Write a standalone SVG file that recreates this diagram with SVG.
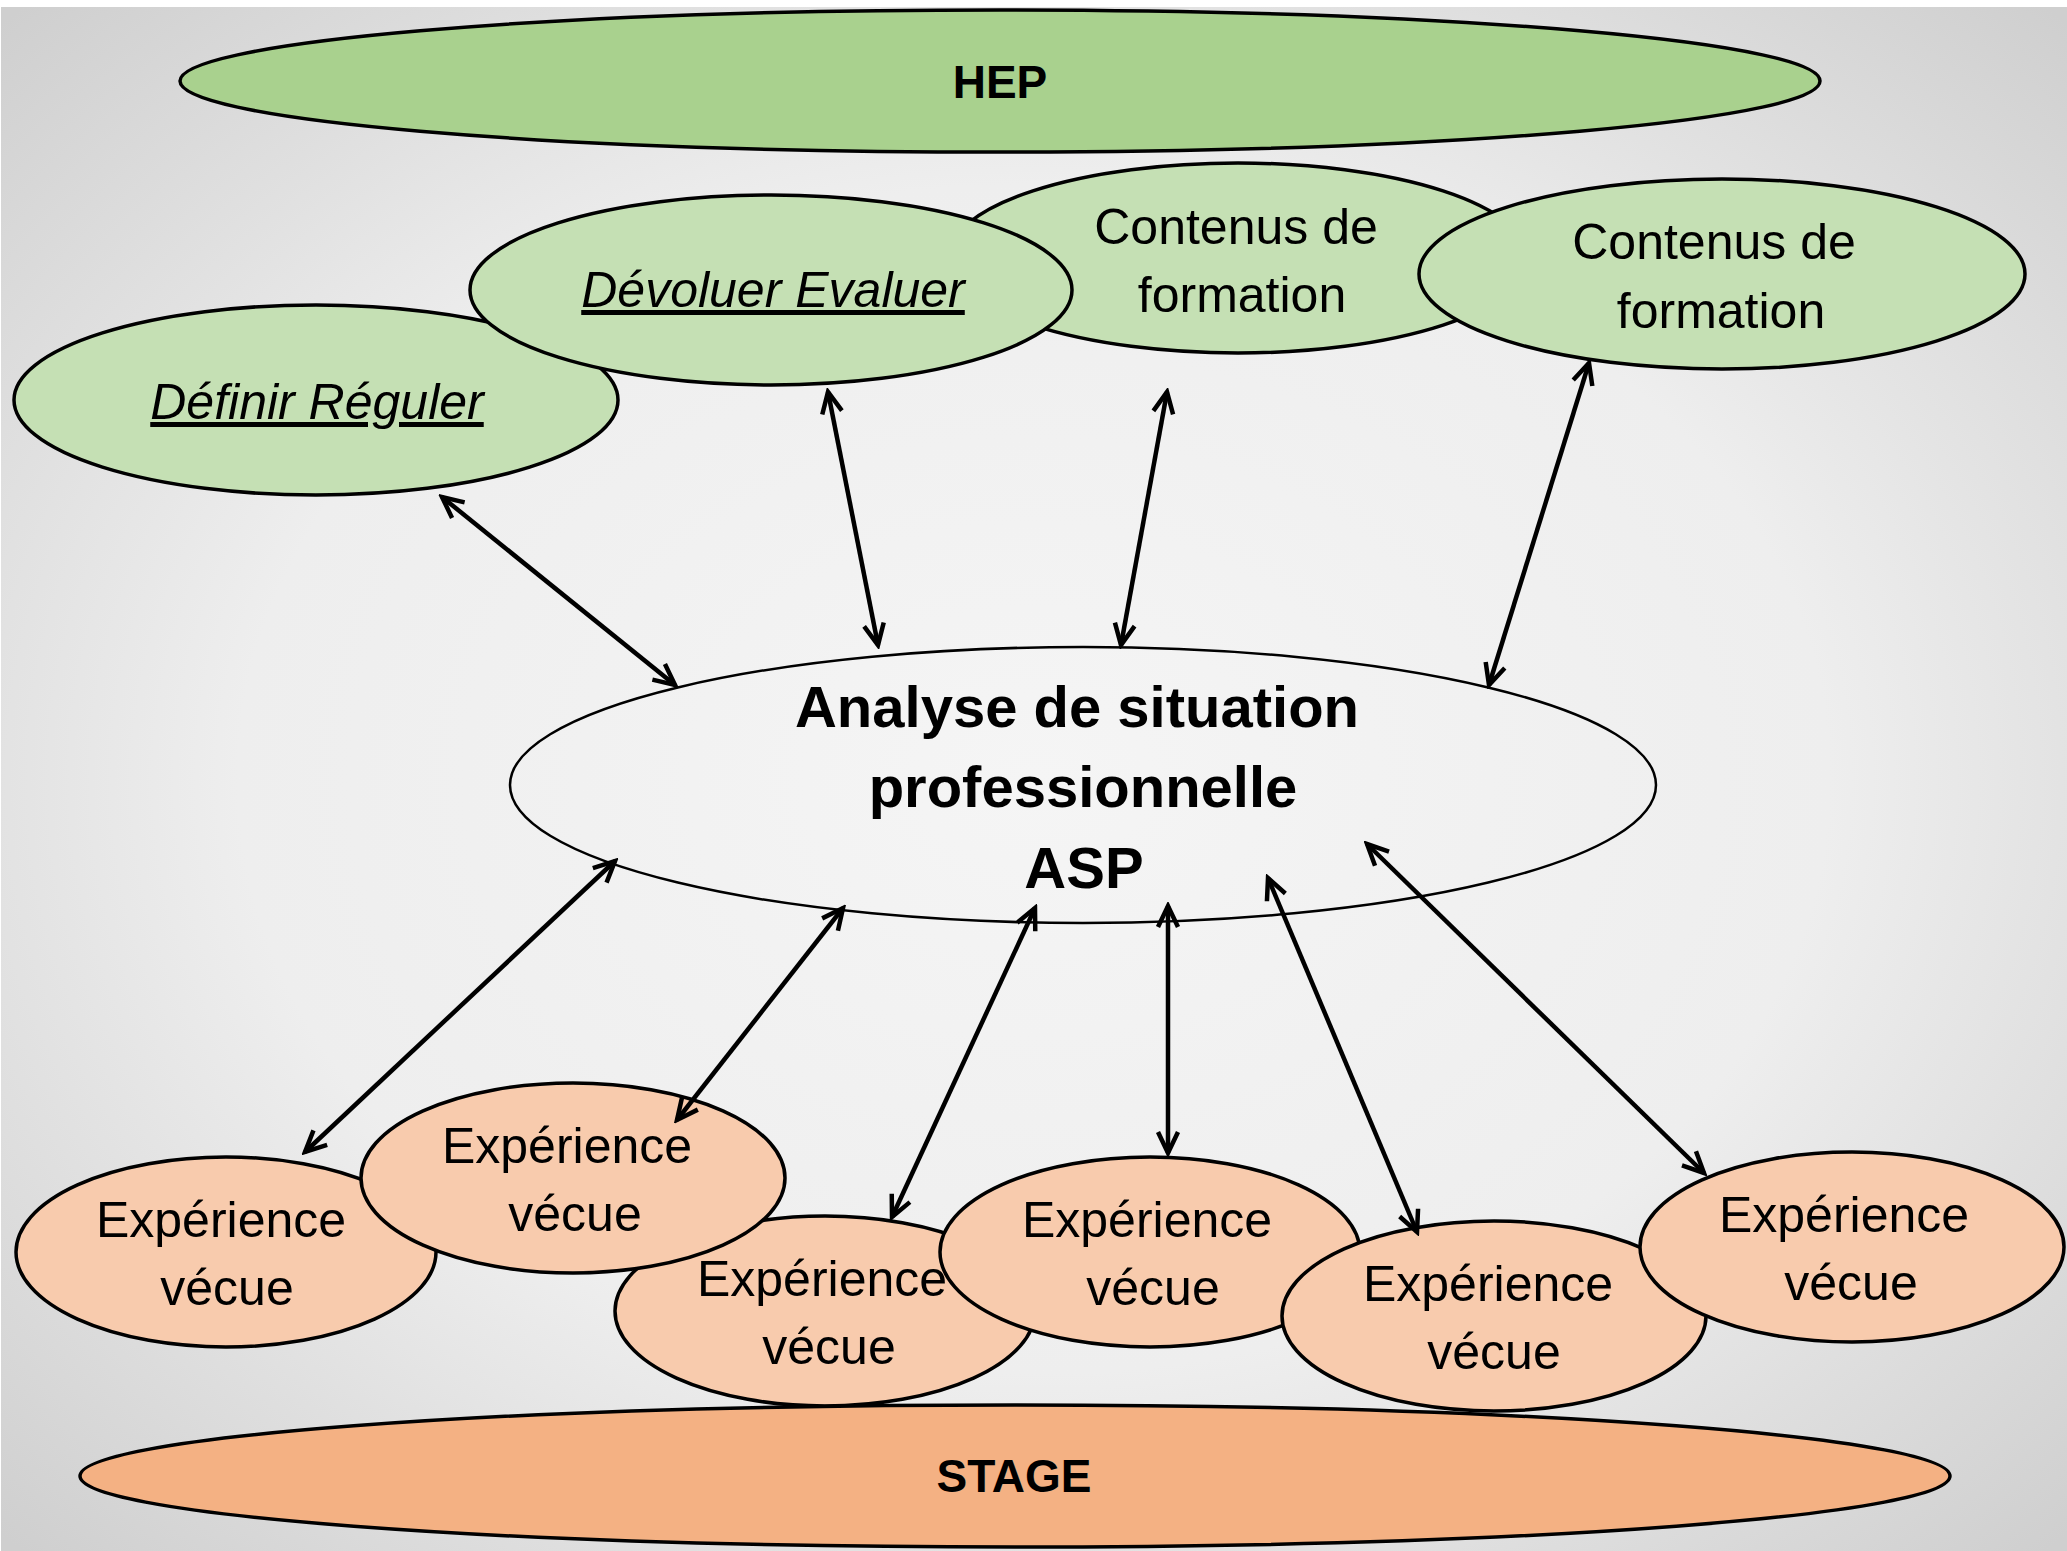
<svg xmlns="http://www.w3.org/2000/svg" width="2067" height="1551" viewBox="0 0 2067 1551">
<defs>
<radialGradient id="bg" cx="50%" cy="50%" r="70%">
<stop offset="0" stop-color="#f5f5f5"/>
<stop offset="0.55" stop-color="#eeeeee"/>
<stop offset="1" stop-color="#cfcfcf"/>
</radialGradient>
<marker id="ah" viewBox="-24 -13 28 26" refX="0" refY="0" markerWidth="28" markerHeight="26" markerUnits="userSpaceOnUse" orient="auto-start-reverse">
<path d="M-21,-10 L0,0 L-21,10" fill="none" stroke="#000" stroke-width="4.5" stroke-linejoin="miter"/>
</marker>
</defs>
<style>
.e{stroke:#000;stroke-width:3.5}
.hep{fill:#a9d18e}
.g{fill:#c5e0b4}
.o{fill:#f8cbad}
.st{fill:#f4b183}
.asp{fill:none;stroke:#000;stroke-width:2.5}
text{font-family:"Liberation Sans",Arial,sans-serif;fill:#000;text-anchor:middle}
.t{font-size:50px}
.i{font-size:50px;font-style:italic;text-decoration:underline}
.b{font-size:58px;font-weight:bold}
.bs{font-size:46px;font-weight:bold}
.c line{stroke:#000;stroke-width:4.5;marker-start:url(#ah);marker-end:url(#ah)}
</style>
<rect x="0" y="0" width="2067" height="1551" fill="#ffffff"/>
<rect x="1" y="7" width="2066" height="1544" fill="url(#bg)"/>

<g id="hep"><ellipse class="e hep" cx="1000" cy="81" rx="820" ry="71"/><text class="bs" x="1000" y="98">HEP</text></g>

<g id="definir"><ellipse class="e g" cx="316" cy="400" rx="302" ry="95"/><text class="i" x="317" y="419">Définir Réguler</text></g>
<g id="contenus1"><ellipse class="e g" cx="1238" cy="258" rx="290" ry="95"/><text class="t" x="1236" y="244">Contenus de</text><text class="t" x="1242" y="312">formation</text></g>
<g id="devoluer"><ellipse class="e g" cx="771" cy="290" rx="301" ry="95"/><text class="i" x="773" y="307">Dévoluer Evaluer</text></g>
<g id="contenus2"><ellipse class="e g" cx="1722" cy="274" rx="303" ry="95"/><text class="t" x="1714" y="259">Contenus de</text><text class="t" x="1721" y="328">formation</text></g>

<g id="asp"><ellipse class="asp" cx="1083" cy="785" rx="573" ry="138"/><text class="b" x="1077" y="727">Analyse de situation</text><text class="b" x="1083" y="807">professionnelle</text><text class="b" x="1084" y="888">ASP</text></g>

<g id="exp1"><ellipse class="e o" cx="226" cy="1252" rx="210" ry="95"/><text class="t" x="221" y="1237">Expérience</text><text class="t" x="227" y="1305">vécue</text></g>
<g id="exp3"><ellipse class="e o" cx="825" cy="1311" rx="210" ry="95"/><text class="t" x="822" y="1296">Expérience</text><text class="t" x="829" y="1364">vécue</text></g>
<g id="exp2"><ellipse class="e o" cx="573" cy="1178" rx="212" ry="95"/><text class="t" x="567" y="1163">Expérience</text><text class="t" x="575" y="1231">vécue</text></g>
<g id="exp4"><ellipse class="e o" cx="1150" cy="1252" rx="210" ry="95"/><text class="t" x="1147" y="1237">Expérience</text><text class="t" x="1153" y="1305">vécue</text></g>
<g id="exp5"><ellipse class="e o" cx="1494" cy="1316" rx="212" ry="95"/><text class="t" x="1488" y="1301">Expérience</text><text class="t" x="1494" y="1369">vécue</text></g>
<g id="exp6"><ellipse class="e o" cx="1852" cy="1247" rx="212" ry="95"/><text class="t" x="1844" y="1232">Expérience</text><text class="t" x="1851" y="1300">vécue</text></g>

<g id="stage"><ellipse class="e st" cx="1015" cy="1476" rx="935" ry="71"/><text class="bs" x="1014" y="1492">STAGE</text></g>

<g id="connectors" class="c">
<line x1="442" y1="497" x2="675" y2="685"/>
<line x1="828" y1="392" x2="878" y2="645"/>
<line x1="1167" y1="392" x2="1121" y2="645"/>
<line x1="1589" y1="363" x2="1489" y2="685"/>
<line x1="615" y1="861" x2="305" y2="1152"/>
<line x1="843" y1="908" x2="677" y2="1120"/>
<line x1="1035" y1="908" x2="892" y2="1217"/>
<line x1="1168" y1="906" x2="1168" y2="1153"/>
<line x1="1268" y1="878" x2="1417" y2="1232"/>
<line x1="1367" y1="844" x2="1704" y2="1173"/>
</g>
</svg>
